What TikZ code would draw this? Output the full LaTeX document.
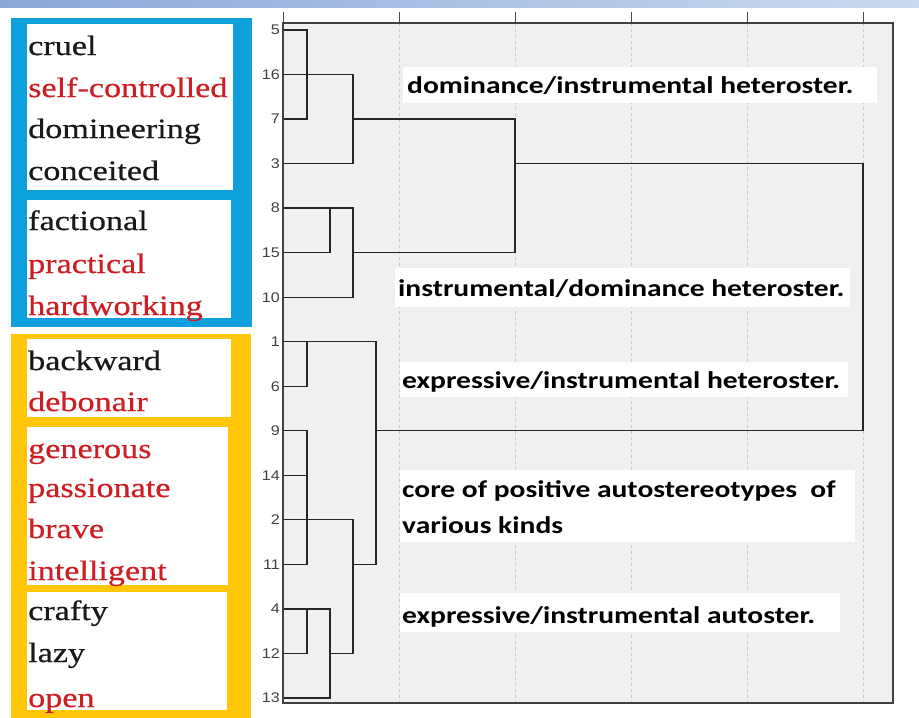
\documentclass[tikz,border=0pt]{standalone}
\usepackage{fontspec}
\usetikzlibrary{calc}
\newfontfamily\labfont[FakeStretch=1.23]{Carlito}
\newfontfamily\wordfont[FakeStretch=1.22,FakeBold=0.6]{Liberation Serif}
\newfontfamily\numfont[FakeStretch=1.15]{Liberation Sans}
\definecolor{cblue}{RGB}{14,160,220}
\definecolor{cgold}{RGB}{255,198,10}
\definecolor{cred}{RGB}{205,30,35}
\definecolor{plotbg}{RGB}{240,240,240}
\definecolor{gridc}{RGB}{200,200,200}
\definecolor{bannerL}{RGB}{140,168,215}
\definecolor{bannerR}{RGB}{205,218,240}
\begin{document}
\begin{tikzpicture}[x=1pt,y=-1pt,
  word/.style={anchor=base west, inner sep=0pt, font=\wordfont\fontsize{28}{30}\selectfont, text=black!90},
  redword/.style={word, text=cred},
  lab/.style={anchor=base west, inner sep=0pt, font=\labfont\bfseries\fontsize{24}{36}\selectfont},
  labbox/.style={fill=white},
  num/.style={anchor=east, inner sep=0pt, font=\numfont\fontsize{14}{14}\selectfont, text=black!75},
  dend/.style={draw=black!85, line width=1.3pt},
  gridline/.style={draw=gridc, dashed, line width=0.8pt},
  tick/.style={draw=black!70, line width=0.9pt},
  frame/.style={draw=black!75, line width=1.3pt}]
\useasboundingbox (0,0) rectangle (919,718);
% banner
\shade[left color=bannerL, right color=bannerR] (0,0) rectangle (919,7);
% left panels
\fill[cblue] (11,18) rectangle (252,327);
\fill[white] (27,24) rectangle (233,190);
\fill[white] (27,200) rectangle (231,318);
\fill[cgold] (11,334) rectangle (251,718);
\fill[white] (27,339) rectangle (231,417);
\fill[white] (27,427) rectangle (228,585);
\fill[white] (27,592) rectangle (227,710);
\node[word] (w1) at (28,55) {cruel};
\node[redword] (w2) at (28,97) {self-controlled};
\node[word] (w3) at (28,138) {domineering};
\node[word] (w4) at (28,180) {conceited};
\node[word] (w5) at (28,230) {factional};
\node[redword] (w6) at (28,273) {practical};
\node[redword] (w7) at (28,315) {hardworking};
\node[word] (w8) at (28,370) {backward};
\node[redword] (w9) at (28,411) {debonair};
\node[redword] (w10) at (28,458) {generous};
\node[redword] (w11) at (28,497) {passionate};
\node[redword] (w12) at (28,538) {brave};
\node[redword] (w13) at (28,580) {intelligent};
\node[word] (w14) at (28,620) {crafty};
\node[word] (w15) at (28,662) {lazy};
\node[redword] (w16) at (28,707) {open};
% plot area
\fill[plotbg] (283,23) rectangle (893,703);
\foreach \x in {399,515,631,747,863} {\draw[gridline] (\x,23) -- (\x,703);}
\foreach \x in {283,399,515,631,747,863} {\draw[tick] (\x,12) -- (\x,23);}
\foreach \n [count=\i from 0] in {5,16,7,3,8,15,10,1,6,9,14,2,11,4,12,13} {
  \coordinate (r\n) at (283,{30+44.53*\i});
  \node[num] (n\n) at (280,{30+44.53*\i}) {\n};
  \draw[tick] (r\n) -- ++(4,0);
}
% dendrogram
\draw[dend] (r5) -- ++(24,0) |- (r7);
\draw[dend] (r16) -- ++(70,0) |- (r3);
\draw[dend] (r8) -- ++(70,0) |- (r10);
\draw[dend] (r15) -- ($(r15)+(47,0)$) -- ($(r8)+(47,0)$);
\draw[dend] ($(r7)+(70,0)$) -- ($(r7)+(232,0)$) |- ($(r15)+(70,0)$);
\draw[dend] ($(r3)+(232,0)$) -- ($(r3)+(580,0)$) |- ($(r9)+(93,0)$);
\draw[dend] (r1) -- ($(r1)+(93,0)$) |- ($(r11)+(70,0)$);
\draw[dend] ($(r1)+(24,0)$) |- (r6);
\draw[dend] (r9) -- ++(24,0) |- (r11);
\draw[dend] (r14) -- ++(24,0);
\draw[dend] (r2) -- ++(70,0) |- ($(r12)+(47,0)$);
\draw[dend] (r4) -- ++(47,0) |- (r13);
\draw[dend] ($(r4)+(24,0)$) |- (r12);
\draw[frame] (283,23) rectangle (893,703);
% cluster labels
\fill[labbox] (403,67) rectangle (877,103);
\node[lab] (L1) at (407,93) {dominance/instrumental heteroster.};
\fill[labbox] (395,268) rectangle (850,307);
\node[lab] (L2) at (398,296) {instrumental/dominance heteroster.};
\fill[labbox] (400,362) rectangle (848,397);
\node[lab] (L3) at (402,388) {expressive/instrumental heteroster.};
\fill[labbox] (400,470) rectangle (855,542);
\node[lab] (L4a) at (402,497) {core of positive autostereotypes~ of};
\node[lab] (L4b) at (402,533) {various kinds};
\fill[labbox] (400,593) rectangle (840,632);
\node[lab] (L5) at (402,623) {expressive/instrumental autoster.};
\end{tikzpicture}
\end{document}
